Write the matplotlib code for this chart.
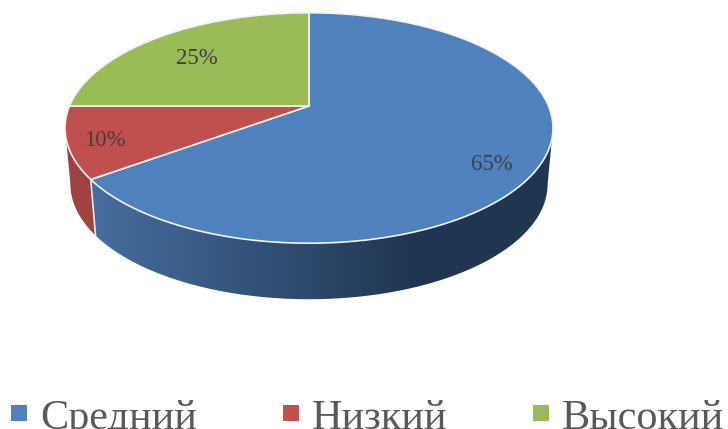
import matplotlib
matplotlib.use("Agg")
import matplotlib.pyplot as plt
import numpy as np
from matplotlib.colors import LinearSegmentedColormap
from matplotlib.patches import Rectangle

categories = ["Средний", "Низкий", "Высокий"]
values = [65, 10, 25]
labels = ["65%", "10%", "25%"]
colors = ["#4f81bd", "#c0504d", "#9bbb59"]

# the look of the tilted pie, in pixels of the picture
cx, cy = 309, 106
rx, ry = 239.5, 111
k = 0.191
depth = 56
lower_scale = 0.978


def project(t, lower=False):
    # t is clockwise from the top, in radians
    u = np.sin(t)
    v = np.cos(t)
    d = 1 + k * v
    x = rx * u / d
    y = cy - ry * v / d
    if lower:
        return cx + x * lower_scale, y + depth
    return cx + x, y


plt.rcParams["font.family"] = ["Liberation Serif", "DejaVu Serif"]
fig = plt.figure(figsize=(7.28, 4.29), dpi=100)
ax = fig.add_axes([0, 0, 1, 1])
ax.axis("off")

edges = np.cumsum([0] + values) / sum(values) * 2 * np.pi

# side wall: only the part of the rim that faces the viewer
wall_start = np.arccos(-k)
wall_end = 2 * np.pi - wall_start
blue_cmap = LinearSegmentedColormap.from_list("wall", ["#466d9f", "#1f3550"])

for i in [1, 0]:
    a = max(edges[i], wall_start)
    b = min(edges[i + 1], wall_end)
    ts = np.linspace(a, b, 300)
    xs, ys = project(ts)
    xl, yl = project(ts[::-1], lower=True)
    if i == 0:
        poly = ax.fill(np.r_[xs, xl], np.r_[ys, yl], facecolor="none", edgecolor="none", zorder=2)[0]
        grad = np.clip((np.arange(90, 600) - 95) / 325, 0, 1).reshape(1, -1)
        im = ax.imshow(grad, cmap=blue_cmap, extent=(90, 600, 310, 100), aspect="auto", zorder=2)
        im.set_clip_path(poly)
    else:
        ax.fill(np.r_[xs, xl], np.r_[ys, yl], facecolor="#a0423f", edgecolor="none", zorder=2)

# thin light line where the blue wall meets the red one
x0, y0 = project(edges[1])
x1, y1 = project(edges[1], lower=True)
ax.plot([x0, x1], [y0, y1], color="#e8e8e8", lw=1.2, zorder=3)

# top face
for i in range(len(values)):
    ts = np.linspace(edges[i], edges[i + 1], 200)
    xs, ys = project(ts)
    ax.fill(np.r_[cx, xs], np.r_[cy, ys], facecolor=colors[i], edgecolor="#f2f2f2", lw=1.2,
            joinstyle="round", zorder=4)

label_x = [492, 105, 197]
label_y = [165, 141, 59]
for lab, x, y in zip(labels, label_x, label_y):
    ax.text(x, y, lab, fontsize=16.5, color="#404040", ha="center", va="center", zorder=5)

# legend, its text runs off the bottom edge like in the original
marker_x = [11, 283, 533]
text_x = [40, 312, 562]
for name, c, mx, tx in zip(categories, colors, marker_x, text_x):
    ax.add_patch(Rectangle((mx, 405), 16, 16, facecolor=c, edgecolor="none"))
    ax.text(tx, 429, name, fontsize=30.4, color="#595959", ha="left", va="baseline", clip_on=True)

ax.set_xlim(0, 728)
ax.set_ylim(429, 0)
fig.savefig("out.png", dpi=100)
